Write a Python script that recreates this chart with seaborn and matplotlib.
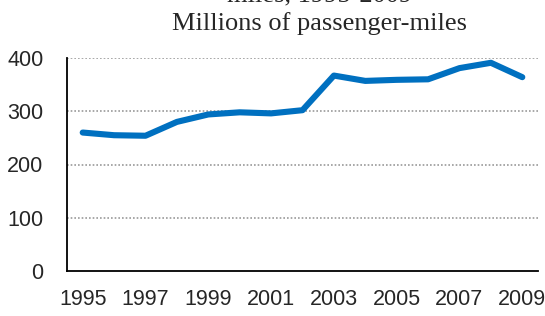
import matplotlib
matplotlib.use("Agg")
import matplotlib.pyplot as plt
import seaborn as sns
import pandas as pd

years = list(range(1995, 2010))
passenger_miles = [260, 255, 254, 280, 294, 298, 296, 302, 367, 357, 359, 360, 381, 391, 364]
y_ticks = [0, 100, 200, 300, 400]
x_ticks = [1995, 1997, 1999, 2001, 2003, 2005, 2007, 2009]
title_line1 = "miles, 1995-2009"
title_line2 = "Millions of passenger-miles"

df = pd.DataFrame({"year": years, "value": passenger_miles})

sns.set_theme(style="white")
tick_font = "Liberation Sans"

fig = plt.figure(figsize=(5.45, 3.16), dpi=100)
ax = fig.add_axes([67/545, 1-271/316, (538-67)/545, (271-58)/316])
sns.lineplot(data=df, x="year", y="value", ax=ax, color="#0070C0", linewidth=4.4)

ax.set_xlim(1994.5, 2009.5)
ax.set_ylim(0, 400)
ax.set_yticks(y_ticks)
ax.set_xticks(x_ticks)
ax.set_xticklabels([str(x) for x in x_ticks], family=tick_font, fontsize=15.5)
ax.set_yticklabels([str(y) for y in y_ticks], family=tick_font, fontsize=15.5)
ax.tick_params(axis="both", length=0)
ax.tick_params(axis="y", pad=17)
ax.tick_params(axis="x", pad=13)
ax.set_xlabel("")
ax.set_ylabel("")
for y in y_ticks[1:]:
    ax.axhline(y, color="#9a9a9a", linestyle=(0, (1, 1.2)), linewidth=1.2, zorder=0)
for s in ["top", "right"]:
    ax.spines[s].set_visible(False)
for s in ["left", "bottom"]:
    ax.spines[s].set_color("black")
    ax.spines[s].set_linewidth(1.3)

fig.text(320/545, 1 - (-5)/316, title_line1, ha="center", va="center", family="Liberation Serif", fontsize=19)
fig.text(320/545, 1 - 24/316, title_line2, ha="center", va="center", family="Liberation Serif", fontsize=19)

fig.savefig("out.png", dpi=100)
